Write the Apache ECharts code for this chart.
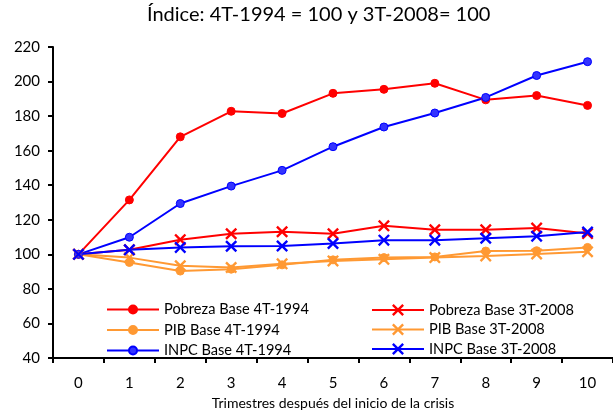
<!DOCTYPE html>
<html>
<head>
<meta charset="utf-8">
<script src="https://cdn.jsdelivr.net/npm/echarts@6/dist/echarts.min.js"></script>
<style>
html,body{margin:0;padding:0;background:#fff;}
#chart{width:613px;height:415px;}
</style>
</head>
<body>
<div id="chart"></div>
<script>
var categories = ['0','1','2','3','4','5','6','7','8','9','10'];
var pobreza1994 = [100, 131.5, 168, 182.8, 181.5, 193.2, 195.5, 199, 189.4, 191.9, 186.2];
var pib1994     = [100, 95.3, 90.3, 91.4, 93.9, 96.8, 98.1, 98.5, 101.9, 102.1, 104];
var inpc1994    = [100, 109.9, 129.4, 139.5, 148.6, 162.3, 173.7, 181.8, 190.8, 203.5, 211.5];
var pobreza2008 = [100, 102.6, 108.5, 111.9, 113.1, 111.9, 116.5, 114.2, 114.2, 115.2, 112];
var pib2008     = [100, 98.1, 93.4, 92.4, 94.5, 96.2, 97.1, 98.1, 99.1, 100.2, 101.5];
var inpc2008    = [100, 102.6, 104, 104.7, 104.8, 106.3, 108.2, 108.2, 109.3, 110.5, 112.9];
var yTicks = [40, 220, 20];

var FONT = 'Lato';
var crossPath = 'path://M0,1.4L1.4,0L5,3.6L8.6,0L10,1.4L6.4,5L10,8.6L8.6,10L5,6.4L1.4,10L0,8.6L3.6,5Z';

function circleSeries(name, data, color, fill) {
  return {
    name: name, type: 'line', data: data,
    symbol: 'circle', symbolSize: 8,
    itemStyle: {color: fill || color, borderColor: color, borderWidth: 1},
    lineStyle: {color: color, width: 2},
    emphasis: {disabled: true}, animation: false
  };
}
function crossSeries(name, data, color) {
  return {
    name: name, type: 'line', data: data,
    symbol: crossPath, symbolSize: 12,
    itemStyle: {color: color},
    lineStyle: {color: color, width: 2},
    emphasis: {disabled: true}, animation: false
  };
}

var chart = echarts.init(document.getElementById('chart'), null, {renderer: 'canvas'});
chart.setOption({
  backgroundColor: '#ffffff',
  animation: false,
  title: {
    text: 'Índice: 4T-1994 = 100 y 3T-2008= 100',
    left: 147, top: 5, padding: 0,
    textStyle: {fontFamily: FONT, fontSize: 20, fontWeight: 'normal', color: '#000'}
  },
  legend: [{
    data: ['Pobreza Base 4T-1994', 'PIB Base 4T-1994', 'INPC Base 4T-1994'],
    orient: 'vertical', left: 106, top: 302, padding: 0,
    itemWidth: 52, itemHeight: 10, itemGap: 5.5,
    textStyle: {fontFamily: FONT, fontSize: 14.6, color: '#000', lineHeight: 14}
  }, {
    data: ['Pobreza Base 3T-2008', 'PIB Base 3T-2008', 'INPC Base 3T-2008'],
    orient: 'vertical', left: 371, top: 302.5, padding: 0,
    itemWidth: 52, itemHeight: 15, itemGap: 4.5,
    textStyle: {fontFamily: FONT, fontSize: 14.6, color: '#000', lineHeight: 15}
  }],
  grid: {left: 53, top: 47, width: 565, bottom: 52, containLabel: false},
  xAxis: {
    type: 'category', data: categories, boundaryGap: true,
    name: 'Trimestres después del inicio de la crisis',
    nameLocation: 'middle', nameGap: 38,
    nameTextStyle: {fontFamily: FONT, fontSize: 14, color: '#000'},
    axisLine: {lineStyle: {color: '#000', width: 2}},
    axisTick: {show: true, length: 5, inside: false, lineStyle: {color: '#000', width: 2}},
    axisLabel: {fontFamily: FONT, fontSize: 15, color: '#000', margin: 18},
    splitLine: {show: false}
  },
  yAxis: {
    type: 'value', min: yTicks[0], max: yTicks[1], interval: yTicks[2],
    axisLine: {show: true, lineStyle: {color: '#000', width: 2}},
    axisTick: {show: true, length: 5, lineStyle: {color: '#000', width: 2}},
    axisLabel: {fontFamily: FONT, fontSize: 15, color: '#000', margin: 13},
    splitLine: {show: false}
  },
  series: [
    circleSeries('Pobreza Base 4T-1994', pobreza1994, '#ff0000'),
    circleSeries('PIB Base 4T-1994', pib1994, '#ff9933'),
    circleSeries('INPC Base 4T-1994', inpc1994, '#0000ff', '#3333ff'),
    crossSeries('Pobreza Base 3T-2008', pobreza2008, '#ff0000'),
    crossSeries('PIB Base 3T-2008', pib2008, '#ff9933'),
    crossSeries('INPC Base 3T-2008', inpc2008, '#0000ff')
  ]
});
</script>
</body>
</html>
